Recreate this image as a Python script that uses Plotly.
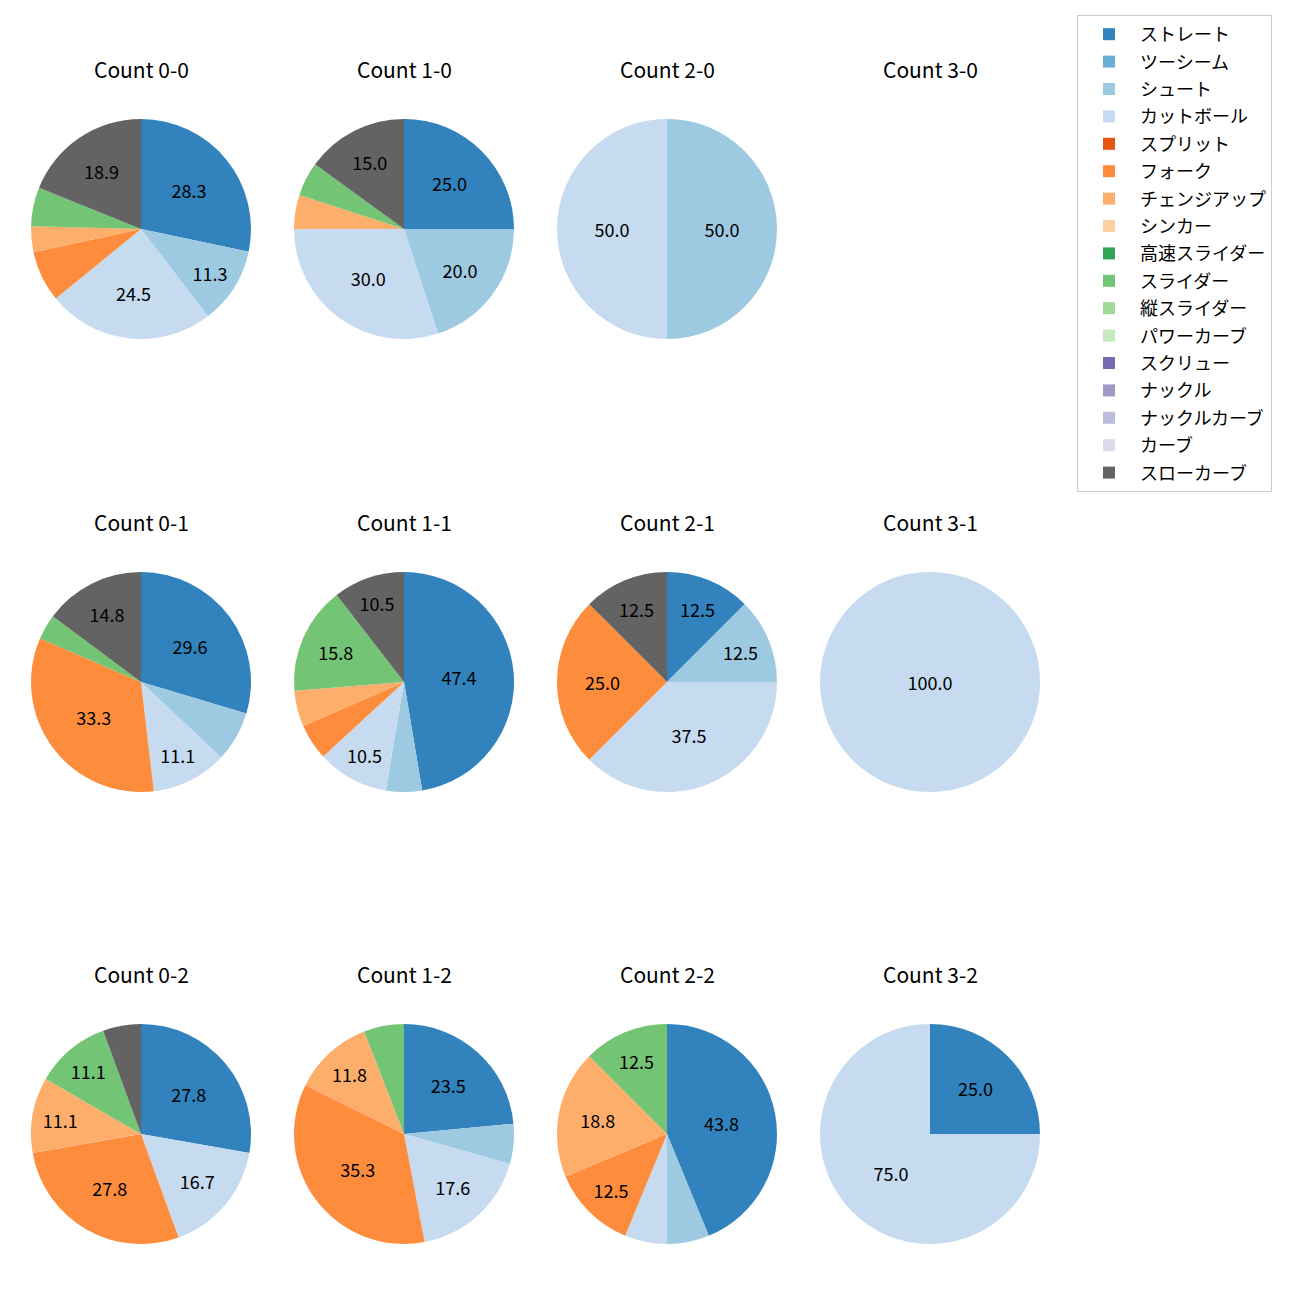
import plotly.graph_objects as go

pitch_types = ["ストレート", "ツーシーム", "シュート", "カットボール", "スプリット", "フォーク",
               "チェンジアップ", "シンカー", "高速スライダー", "スライダー", "縦スライダー",
               "パワーカーブ", "スクリュー", "ナックル", "ナックルカーブ", "カーブ", "スローカーブ"]
colors = ["#3182bd", "#6baed6", "#9ecae1", "#c6dbef", "#e6550d", "#fd8d3c",
          "#fdae6b", "#fdd0a2", "#31a354", "#74c476", "#a1d99b", "#c7e9c0",
          "#756bb1", "#9e9ac8", "#bcbddc", "#dadaeb", "#636363"]

# percentages per count, in pitch_types order
count_0_0 = [28.3, 0, 11.3, 24.5, 0, 7.5, 3.8, 0, 0, 5.7, 0, 0, 0, 0, 0, 0, 18.9]
count_1_0 = [25.0, 0, 20.0, 30.0, 0, 0, 5.0, 0, 0, 5.0, 0, 0, 0, 0, 0, 0, 15.0]
count_2_0 = [0, 0, 50.0, 50.0, 0, 0, 0, 0, 0, 0, 0, 0, 0, 0, 0, 0, 0]
count_3_0 = [0] * 17
count_0_1 = [29.6, 0, 7.4, 11.1, 0, 33.3, 0, 0, 0, 3.7, 0, 0, 0, 0, 0, 0, 14.8]
count_1_1 = [47.4, 0, 5.3, 10.5, 0, 5.3, 5.3, 0, 0, 15.8, 0, 0, 0, 0, 0, 0, 10.5]
count_2_1 = [12.5, 0, 12.5, 37.5, 0, 25.0, 0, 0, 0, 0, 0, 0, 0, 0, 0, 0, 12.5]
count_3_1 = [0, 0, 0, 100.0, 0, 0, 0, 0, 0, 0, 0, 0, 0, 0, 0, 0, 0]
count_0_2 = [27.8, 0, 0, 16.7, 0, 27.8, 11.1, 0, 0, 11.1, 0, 0, 0, 0, 0, 0, 5.6]
count_1_2 = [23.5, 0, 5.9, 17.6, 0, 35.3, 11.8, 0, 0, 5.9, 0, 0, 0, 0, 0, 0, 0]
count_2_2 = [43.8, 0, 6.2, 6.2, 0, 12.5, 18.8, 0, 0, 12.5, 0, 0, 0, 0, 0, 0, 0]
count_3_2 = [25.0, 0, 0, 75.0, 0, 0, 0, 0, 0, 0, 0, 0, 0, 0, 0, 0, 0]

panels = [
    ("Count 0-0", count_0_0), ("Count 1-0", count_1_0), ("Count 2-0", count_2_0), ("Count 3-0", count_3_0),
    ("Count 0-1", count_0_1), ("Count 1-1", count_1_1), ("Count 2-1", count_2_1), ("Count 3-1", count_3_1),
    ("Count 0-2", count_0_2), ("Count 1-2", count_1_2), ("Count 2-2", count_2_2), ("Count 3-2", count_3_2),
]

W = H = 1300
OFF = 8  # page body margin
FONT = "Noto Sans CJK JP"
col_cx = [141 - OFF, 404 - OFF, 667 - OFF, 930 - OFF]
row_cy = [229 - OFF, 682 - OFF, 1134 - OFF]
R = 110
title_dy = 160

fig = go.Figure()
annotations = []
for i, (title, vals) in enumerate(panels):
    r, c = divmod(i, 4)
    cx, cy = col_cx[c], row_cy[r]
    labs = [p for p, v in zip(pitch_types, vals) if v > 0]
    vs = [v for v in vals if v > 0]
    cols = [colors[k] for k, v in enumerate(vals) if v > 0]
    txt = [f"{v:.1f}" if v >= 10 else "" for v in vs]
    if vs:
        fig.add_trace(go.Pie(
            labels=labs, values=vs, text=txt, textinfo="text",
            textposition="inside", insidetextorientation="horizontal",
            textfont=dict(family=FONT, size=18, color="black"),
            marker=dict(colors=cols, line=dict(width=0)),
            sort=False, direction="clockwise", rotation=0,
            showlegend=False, hoverinfo="label+percent",
            domain=dict(x=[(cx - R) / W, (cx + R) / W],
                        y=[1 - (cy + R) / H, 1 - (cy - R) / H]),
        ))
    annotations.append(dict(
        text=title, x=cx / W, y=1 - (cy - title_dy) / H, xref="paper", yref="paper",
        xanchor="center", yanchor="middle", showarrow=False,
        font=dict(family=FONT, size=21, color="black"),
    ))

# legend entries (one per pitch type)
for k, (p, col) in enumerate(zip(pitch_types, colors)):
    fig.add_trace(go.Pie(
        labels=[p], values=[1], marker=dict(colors=[col], line=dict(width=0)),
        textinfo="none", hoverinfo="skip", showlegend=True, legendgroup=f"g{k}",
        domain=dict(x=[0.9999, 1.0], y=[0.0, 0.0001]), sort=False,
    ))

fig.update_layout(
    width=W, height=H,
    margin=dict(l=0, r=0, t=0, b=0),
    paper_bgcolor="white", plot_bgcolor="white",
    annotations=annotations,
    legend=dict(
        x=(1077 - OFF) / W, y=1 - (15 - OFF) / H, xanchor="left", yanchor="top",
        font=dict(family=FONT, size=18, color="black"),
        bordercolor="#cccccc", borderwidth=1, bgcolor="white",
        traceorder="grouped", tracegroupgap=1, itemwidth=52,
    ),
)

fig.write_html("out.html")
